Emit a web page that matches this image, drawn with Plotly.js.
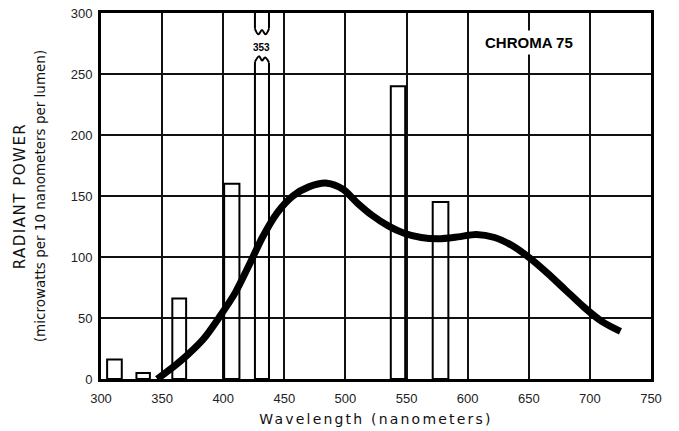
<!DOCTYPE html>
<html>
<head>
<meta charset="utf-8">
<script src="https://cdn.plot.ly/plotly-3.0.1.min.js"></script>
<style>
  html, body { margin: 0; padding: 0; background: #fff; }
  #chart { width: 679px; height: 431px; }
  .xtitle { letter-spacing: 2.2px; }
</style>
</head>
<body>
<div id="chart"></div>
<script>
// Continuous spectrum (smooth curve)
const curveNm = [346, 358, 371, 384, 397, 410, 421, 432, 444, 457, 470, 485, 498, 510, 522, 535, 548, 562, 576, 592, 607, 622, 637, 651, 665, 680, 695, 710, 725];
const curvePower = [0, 9, 20, 33, 51, 71, 93, 116, 136, 150, 157.5, 160.5, 155.5, 144, 134, 125.5, 119.5, 116, 115, 116.5, 118.5, 116, 109, 99, 87, 73, 59, 47, 39];

// Mercury emission lines (bars)
const lineNm = [311, 334.5, 364, 407, 431.7, 543, 577.8];
const lineBandNm = [12, 11, 11.3, 12.5, 11.5, 11.8, 12.8];
const linePower = [16, 5, 66, 160, 353, 240, 145];

// Axis ticks
const xTicks = [300, 350, 400, 450, 500, 550, 600, 650, 700, 750];
const yTicks = [0, 50, 100, 150, 200, 250, 300];

const labelText = 'CHROMA 75';
const xTitle = 'Wavelength (nanometers)';
const yTitle1 = 'RADIANT POWER';
const yTitle2 = '(microwatts per 10 nanometers per lumen)';

// Break marker for the bar exceeding the axis
const brokenIdx = linePower.findIndex(v => v > 300);
const bc = lineNm[brokenIdx], bw = lineBandNm[brokenIdx];
const loF = [0, 0.3, 0.5, 0.72, 1], loY = [260, 264.5, 261, 263.5, 259.5];
const hiF = [0, 0.25, 0.5, 0.75, 1], hiY = [287, 282.5, 286, 282.5, 287];
const loX = loF.map(f => bc - bw / 2 + f * bw);
const hiX = hiF.map(f => bc - bw / 2 + f * bw);
const padX = 1.2;
const fillX = [bc - bw/2 - padX, ...loX, bc + bw/2 + padX, bc + bw/2 + padX, ...hiX.slice().reverse(), bc - bw/2 - padX];
const fillY = [loY[0] - 0.5, ...loY, loY[loY.length-1] - 0.5, hiY[hiY.length-1] + 0.5, ...hiY.slice().reverse(), hiY[0] + 0.5];

const traces = [
  {
    type: 'bar', x: lineNm, y: linePower, width: lineBandNm, base: 0,
    marker: { color: 'rgba(0,0,0,0)', line: { color: '#000', width: 2 } },
    hoverinfo: 'x+y', showlegend: false
  },
  {
    type: 'scatter', mode: 'lines', x: fillX, y: fillY, fill: 'toself',
    fillcolor: '#fff', line: { width: 0, color: '#fff' }, hoverinfo: 'skip', showlegend: false
  },
  {
    type: 'scatter', mode: 'lines', x: loX, y: loY,
    line: { color: '#000', width: 2, shape: 'spline' }, hoverinfo: 'skip', showlegend: false
  },
  {
    type: 'scatter', mode: 'lines', x: hiX, y: hiY,
    line: { color: '#000', width: 2, shape: 'spline' }, hoverinfo: 'skip', showlegend: false
  },
  {
    type: 'scatter', mode: 'lines', x: curveNm, y: curvePower,
    line: { color: '#000', width: 7, shape: 'spline', smoothing: 0.8 }, showlegend: false
  }
];

const axisCommon = {
  showgrid: true, gridcolor: '#111', gridwidth: 2,
  showline: true, mirror: true, linecolor: '#000', linewidth: 3,
  zeroline: false, ticks: '',
  tickfont: { family: 'Liberation Sans, Arial, sans-serif', size: 13, color: '#222' },
  tickmode: 'array'
};

const layout = {
  width: 679, height: 431,
  margin: { l: 101, r: 28, t: 13, b: 52 },
  paper_bgcolor: '#fff', plot_bgcolor: '#fff',
  showlegend: false,
  bargap: 0,
  xaxis: Object.assign({}, axisCommon, {
    range: [300, 750], tickvals: xTicks, ticktext: xTicks.map(String),
    ticklabelstandoff: 5,
    title: { text: xTitle, font: { family: 'DejaVu Sans, sans-serif', size: 14, color: '#111' }, standoff: 10 }
  }),
  yaxis: Object.assign({}, axisCommon, {
    range: [0, 300], tickvals: yTicks, ticktext: yTicks.map(String),
    ticklabelstandoff: 3,
    title: {
      text: '<span style="letter-spacing:1.5px">' + yTitle1 + '</span><br>' + '<span style="font-size:13.5px">' + yTitle2 + '</span>',
      font: { family: 'DejaVu Sans, sans-serif', size: 15, color: '#111' }, standoff: 22
    }
  }),
  annotations: [
    {
      x: 650, y: 276, xref: 'x', yref: 'y', text: '<b>' + labelText + '</b>', showarrow: false,
      font: { family: 'Liberation Sans, Arial, sans-serif', size: 15, color: '#000' },
      bgcolor: '#fff', borderpad: 3
    },
    {
      x: bc, y: 271.5, xref: 'x', yref: 'y', text: '<b>' + linePower[brokenIdx] + '</b>', showarrow: false,
      font: { family: 'Liberation Sans, Arial, sans-serif', size: 10, color: '#000' }
    }
  ]
};

Plotly.newPlot('chart', traces, layout, { staticPlot: true, displayModeBar: false });
</script>
</body>
</html>
